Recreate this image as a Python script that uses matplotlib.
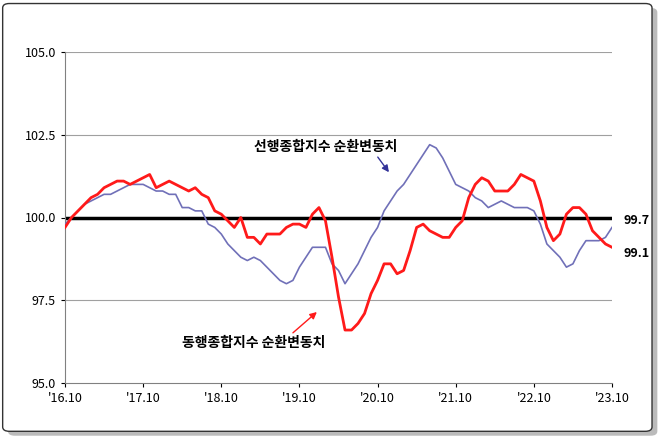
import matplotlib
matplotlib.use("Agg")
import matplotlib.pyplot as plt
from matplotlib.patches import FancyBboxPatch
import numpy as np

plt.rcParams["font.family"] = ["Noto Sans CJK KR", "DejaVu Sans"]

# 2016.10 ~ 2023.10 월별
coincident = [99.7, 100.0, 100.2, 100.4, 100.6, 100.7, 100.9, 101.0, 101.1, 101.1,
              101.0, 101.1, 101.2, 101.3, 100.9, 101.0, 101.1, 101.0, 100.9, 100.8,
              100.9, 100.7, 100.6, 100.2, 100.1, 99.9, 99.7, 100.0, 99.4, 99.4,
              99.2, 99.5, 99.5, 99.5, 99.7, 99.8, 99.8, 99.7, 100.1, 100.3,
              99.9, 98.8, 97.6, 96.6, 96.6, 96.8, 97.1, 97.7, 98.1, 98.6,
              98.6, 98.3, 98.4, 99.0, 99.7, 99.8, 99.6, 99.5, 99.4, 99.4,
              99.7, 99.9, 100.6, 101.0, 101.2, 101.1, 100.8, 100.8, 100.8, 101.0,
              101.3, 101.2, 101.1, 100.5, 99.7, 99.3, 99.5, 100.1, 100.3, 100.3,
              100.1, 99.6, 99.4, 99.2, 99.1]
leading = [99.8, 100.0, 100.2, 100.4, 100.5, 100.6, 100.7, 100.7, 100.8, 100.9,
           101.0, 101.0, 101.0, 100.9, 100.8, 100.8, 100.7, 100.7, 100.3, 100.3,
           100.2, 100.2, 99.8, 99.7, 99.5, 99.2, 99.0, 98.8, 98.7, 98.8,
           98.7, 98.5, 98.3, 98.1, 98.0, 98.1, 98.5, 98.8, 99.1, 99.1,
           99.1, 98.6, 98.4, 98.0, 98.3, 98.6, 99.0, 99.4, 99.7, 100.2,
           100.5, 100.8, 101.0, 101.3, 101.6, 101.9, 102.2, 102.1, 101.8, 101.4,
           101.0, 100.9, 100.8, 100.6, 100.5, 100.3, 100.4, 100.5, 100.4, 100.3,
           100.3, 100.3, 100.2, 99.8, 99.2, 99.0, 98.8, 98.5, 98.6, 99.0,
           99.3, 99.3, 99.3, 99.4, 99.7]
xlabels = ["'16.10", "'17.10", "'18.10", "'19.10", "'20.10", "'21.10", "'22.10", "'23.10"]
x = np.arange(len(coincident))

fig = plt.figure(figsize=(6.66, 4.41), dpi=100, facecolor="white")
# 바깥 테두리 (그림자)
fig.patches.append(FancyBboxPatch((0.012, 0.012), 0.975, 0.97, boxstyle="round,pad=0,rounding_size=0.01",
                                  transform=fig.transFigure, fc="#bbbbbb", ec="none", zorder=-2))
fig.patches.append(FancyBboxPatch((0.004, 0.022), 0.975, 0.97, boxstyle="round,pad=0,rounding_size=0.01",
                                  transform=fig.transFigure, fc="white", ec="#333333", lw=1, zorder=-1))

ax = fig.add_axes([65 / 666, 1 - 383 / 441, (612 - 65) / 666, (383 - 52) / 441])
ax.set_facecolor("none")
ax.set_xlim(0, 84); ax.set_ylim(95, 105)
for v in [97.5, 102.5, 105]:
    ax.axhline(v, color="#a0a0a0", lw=0.8, zorder=1)
ax.axhline(100, color="black", lw=2.5, zorder=2)
ax.plot(x, leading, color="#7070b8", lw=1.2, zorder=3)
ax.plot(x, coincident, color="#ff1a1a", lw=2, zorder=4)

ax.set_yticks([95, 97.5, 100, 102.5, 105])
ax.set_yticklabels(["95.0", "97.5", "100.0", "102.5", "105.0"], fontsize=9)
ax.set_xticks(np.arange(0, 85, 12))
ax.set_xticklabels(xlabels, fontsize=9)
ax.tick_params(length=3, direction="out")
for s in ["top", "right"]:
    ax.spines[s].set_visible(False)
ax.spines["left"].set_color("#808080"); ax.spines["bottom"].set_color("#808080")

ax.annotate("선행종합지수 순환변동치", xy=(50, 101.3), xytext=(29, 102.0),
            fontsize=10, fontweight="bold",
            arrowprops=dict(arrowstyle="-|>", color="#333399", lw=1,
                            shrinkA=0, relpos=(0.85, 0)))
ax.annotate("동행종합지수 순환변동치", xy=(39, 97.2), xytext=(18, 96.1),
            fontsize=10, fontweight="bold",
            arrowprops=dict(arrowstyle="-|>", color="#ff1a1a", lw=1,
                            shrinkA=0, relpos=(0.75, 1)))
ax.text(85.8, leading[-1], "99.7", fontsize=9, fontweight="bold", va="bottom")
ax.text(85.8, coincident[-1], "99.1", fontsize=9, fontweight="bold", va="top")

fig.savefig("out.png", dpi=100)
